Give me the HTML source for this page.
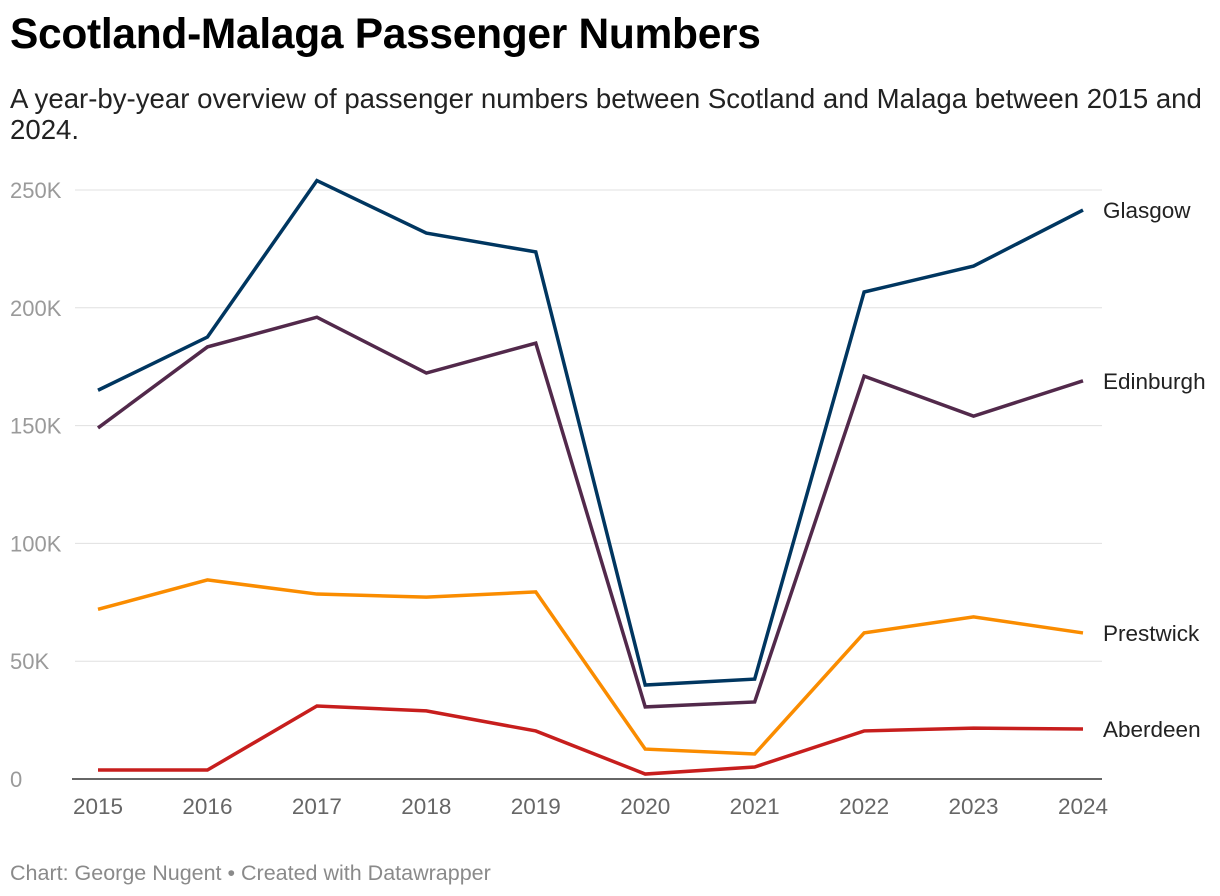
<!DOCTYPE html>
<html><head><meta charset="utf-8"><style>
body{margin:0;background:#fff;width:1220px;height:896px;overflow:hidden;font-family:"Liberation Sans",sans-serif;}
#title{position:absolute;left:10px;top:11px;font-size:42.5px;font-weight:bold;color:#000;letter-spacing:-0.3px}
#sub{position:absolute;left:10px;top:83px;width:1215px;font-size:27.6px;line-height:31px;color:#222;white-space:nowrap}
#foot{position:absolute;left:10px;top:861px;font-size:21.5px;color:#8a8a8a}
svg{position:absolute;left:0;top:0}
</style></head><body>
<div id="title">Scotland-Malaga Passenger Numbers</div>
<div id="sub">A year-by-year overview of passenger numbers between Scotland and Malaga between 2015 and<br>2024.</div>
<div id="foot">Chart: George Nugent • Created with Datawrapper</div>
<svg id="chart" width="1220" height="896"></svg>
<script>
const years=[2015,2016,2017,2018,2019,2020,2021,2022,2023,2024];
const yTicks=[0,50000,100000,150000,200000,250000];
const yTickLabels=["0","50K","100K","150K","200K","250K"];
const glasgow=[165000,187600,254000,231700,223700,39900,42400,206700,217700,241500];
const edinburgh=[149000,183400,196000,172300,185000,30600,32700,171000,154000,169000];
const prestwick=[72000,84500,78500,77200,79400,12700,10600,62000,68800,62000];
const aberdeen=[3800,3800,31000,28900,20400,2100,5100,20400,21600,21200];
const seriesNames=["Glasgow","Edinburgh","Prestwick","Aberdeen"];
const seriesData=[glasgow,edinburgh,prestwick,aberdeen];
const colors=["#003660","#52294b","#fa8c00","#c71e1d"];
const NS="http://www.w3.org/2000/svg";
const svg=document.getElementById('chart');
const x=i=>98+(1083-98)*i/(years.length-1);
const y=v=>779-(779-190)*v/250000;
function mk(t,a){const e=document.createElementNS(NS,t);for(const k in a)e.setAttribute(k,a[k]);svg.appendChild(e);return e;}
yTicks.forEach((v,i)=>{
  if(v>0){const g=mk('line',{x1:75,x2:1102,y1:y(v),y2:y(v),stroke:'#e0e0e0','stroke-width':1});
  
  }
  const t=mk('text',{x:10,y:y(v)+8,'font-size':22,fill:'#9a9a9a'});
  t.textContent=yTickLabels[i];
  
  
});
const base=mk('line',{x1:72,x2:1102,y1:779,y2:779,stroke:'#333','stroke-width':1.5});


years.forEach((yr,i)=>{
  const t=mk('text',{x:x(i),y:814,'font-size':22.5,fill:'#666','text-anchor':'middle'});
  t.textContent=yr;
  
  
});
seriesData.forEach((d,s)=>{
  const p=mk('polyline',{points:d.map((v,i)=>x(i)+','+y(v)).join(' '),fill:'none',stroke:colors[s],'stroke-width':3.5,'stroke-linejoin':'miter'});
  
  
  const l=mk('text',{x:1103,y:y(d[d.length-1])+8,'font-size':22.5,fill:'#222'});
  l.textContent=seriesNames[s];
  
  
});
</script>
</body></html>
